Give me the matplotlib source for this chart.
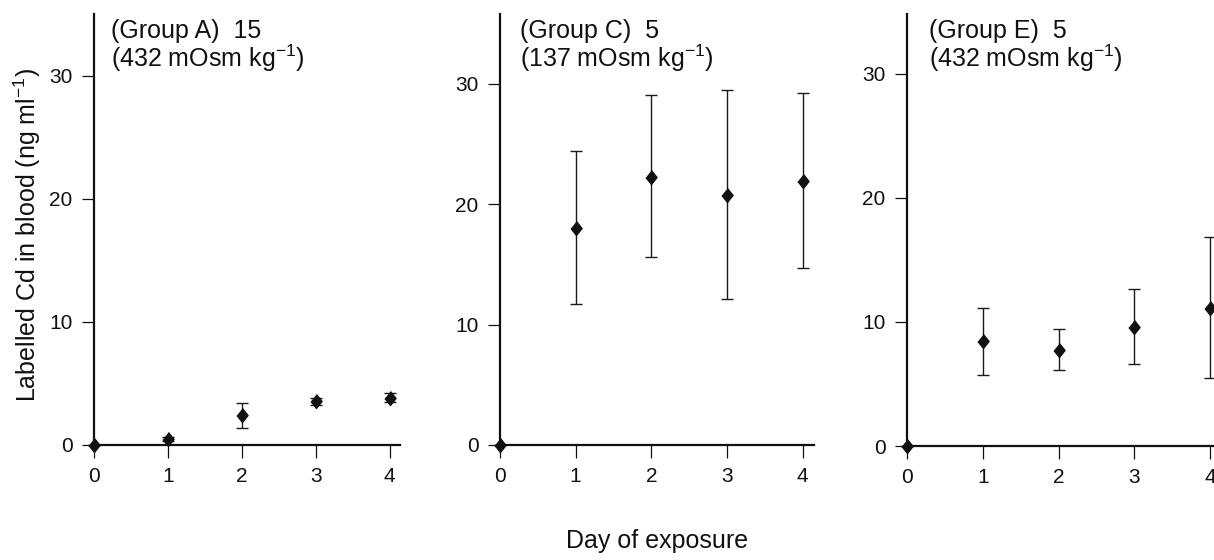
import matplotlib.pyplot as plt

plt.rcParams['font.family'] = ['Liberation Sans', 'DejaVu Sans']
plt.rcParams['mathtext.fontset'] = 'custom'
plt.rcParams['mathtext.rm'] = 'Liberation Sans'
plt.rcParams['mathtext.it'] = 'Liberation Sans'

days = [0, 1, 2, 3, 4]

# group A (15 fish, 432 mOsm)
a_mean = [0, 0.46, 2.4, 3.55, 3.85]
a_low = [0, 0.3, 1.35, 3.25, 3.5]
a_high = [0, 0.65, 3.4, 3.85, 4.2]

# group C (5 fish, 137 mOsm)
c_mean = [0, 18.0, 22.3, 20.8, 21.9]
c_low = [0, 11.7, 15.6, 12.1, 14.7]
c_high = [0, 24.4, 29.1, 29.5, 29.2]

# group E (5 fish, 432 mOsm)
e_mean = [0, 8.45, 7.75, 9.6, 11.1]
e_low = [0, 5.75, 6.1, 6.6, 5.5]
e_high = [0, 11.1, 9.45, 12.65, 16.8]

labels = ["(Group A)  15", "(Group C)  5", "(Group E)  5"]
osm = ["(432 mOsm kg$^{-1}$)", "(137 mOsm kg$^{-1}$)", "(432 mOsm kg$^{-1}$)"]

means = [a_mean, c_mean, e_mean]
lows = [a_low, c_low, e_low]
highs = [a_high, c_high, e_high]

W, H = 1214, 560
fig = plt.figure(figsize=(W / 100, H / 100), dpi=100)

# pixel boxes: left, right, top, bottom
boxes = [(94, 400, 14, 445), (500, 814, 14, 445), (907, 1214, 14, 446)]
ytops = [35.0, 35.8, 34.8]
xrights = [4.14, 4.15, 4.05]

diamond = [(0, 1), (0.8, 0), (0, -1), (-0.8, 0)]

for i in range(3):
    l, r, t, b = boxes[i]
    ax = fig.add_axes([l / W, 1 - b / H, (r - l) / W, (b - t) / H])
    m = means[i]
    yerr = [[m[k] - lows[i][k] for k in range(5)], [highs[i][k] - m[k] for k in range(5)]]
    ax.errorbar(days, m, yerr=yerr, fmt='none', ecolor='#1a1a1a', elinewidth=1.0,
                capsize=4.5, capthick=1.0, clip_on=False)
    ax.plot(days, m, linestyle='none', marker=diamond, markersize=10,
            color='#111111', clip_on=False, zorder=5)
    ax.set_xlim(0, xrights[i])
    ax.set_ylim(0, ytops[i])
    ax.set_xticks(days)
    ax.set_yticks([0, 10, 20, 30])
    for s in ['top', 'right']:
        ax.spines[s].set_visible(False)
    for s in ['left', 'bottom']:
        ax.spines[s].set_linewidth(1.6)
        ax.spines[s].set_color('#111111')
    ax.tick_params(direction='out', width=0.9, labelsize=15, colors='#111111')
    ax.tick_params(axis='x', length=9, pad=7)
    ax.tick_params(axis='y', length=8.5, pad=7)
    ax.text(0.055 + 0.008 * i, 1 - 23.7 / 431, labels[i], transform=ax.transAxes,
            fontsize=18, va='baseline', ha='left', color='#111111')
    ax.text(0.055 + 0.008 * i, 1 - 52.5 / 431, osm[i], transform=ax.transAxes,
            fontsize=18, va='baseline', ha='left', color='#111111')

fig.text(27 / W, 1 - 235 / H, "Labelled Cd in blood (ng ml$^{-1}$)", rotation=90,
         ha='center', va='center', fontsize=18, color='#111111')
fig.text(657 / W, 1 - 541 / H, "Day of exposure", ha='center', va='center',
         fontsize=18, color='#111111')

fig.savefig('out.png', dpi=100)
